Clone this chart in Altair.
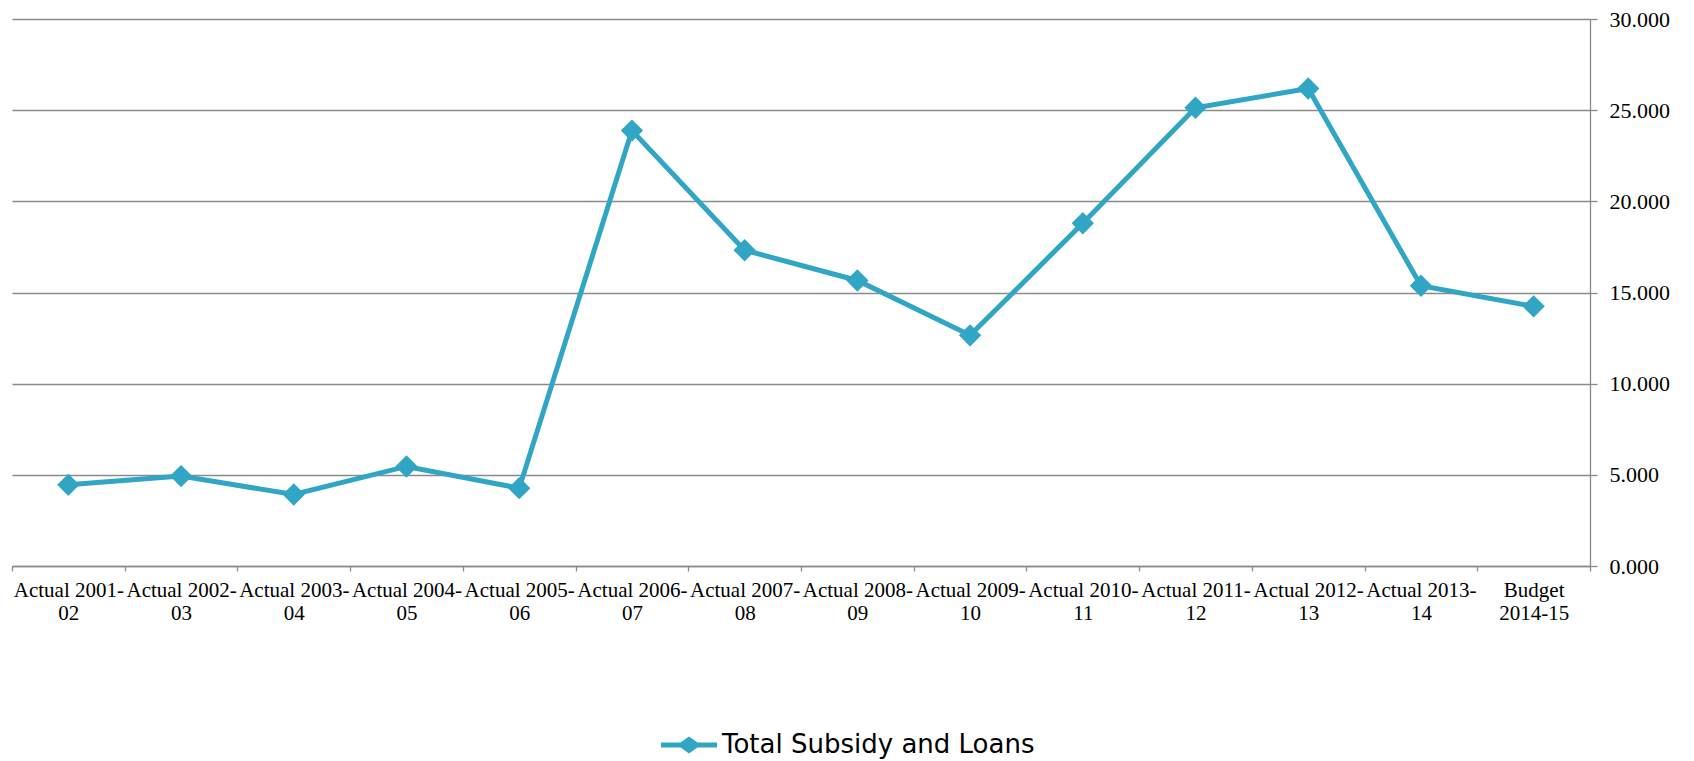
import altair as alt
import pandas as pd

categories = [
    "Actual 2001-02", "Actual 2002-03", "Actual 2003-04", "Actual 2004-05",
    "Actual 2005-06", "Actual 2006-07", "Actual 2007-08", "Actual 2008-09",
    "Actual 2009-10", "Actual 2010-11", "Actual 2011-12", "Actual 2012-13",
    "Actual 2013-14", "Budget 2014-15",
]
values = [4.45, 4.93, 3.92, 5.46, 4.27, 23.88, 17.32, 15.66, 12.65, 18.80,
          25.13, 26.19, 15.37, 14.24]
series_name = "Total Subsidy and Loans"
y_ticks = [0, 5, 10, 15, 20, 25, 30]

COLOR = "#31a6c4"
GRAY = "#8a8a8a"

df = pd.DataFrame({"cat": categories, "val": values, "series": series_name})

label_expr = (
    "!isString(datum.label) ? '' : "
    "(datum.label == 'Budget 2014-15' ? ['Budget', '2014-15'] : "
    "[substring(datum.label, 0, 12), substring(datum.label, 12)])"
)

legend_path = ("M-1,-0.09 L-0.3,-0.09 L0,-0.3 L0.3,-0.09 L1,-0.09 L1,0.09 "
               "L0.3,0.09 L0,0.3 L-0.3,0.09 L-1,0.09 Z")

x_enc = alt.X(
    "cat:N", sort=categories,
    scale=alt.Scale(type="band", paddingInner=0, paddingOuter=0),
    axis=alt.Axis(
        title=None, labelAngle=0, tickBand="extent", tickSize=5,
        tickColor=GRAY, domainColor=GRAY, domainWidth=1.3, tickWidth=1.3,
        labelFont="Liberation Serif", labelFontSize=21, labelColor="black",
        labelLineHeight=23, labelPadding=8, labelBaseline="top",
        labelExpr=label_expr,
        grid=False,
    ),
)
y_enc = alt.Y(
    "val:Q", scale=alt.Scale(domain=[0, 30], nice=False),
    axis=alt.Axis(
        title=None, orient="right", values=y_ticks, format=".3f",
        tickSize=7, tickColor=GRAY, domainColor=GRAY, domainWidth=1.3,
        tickWidth=1.3, gridColor=GRAY, gridWidth=1.3,
        labelFont="Liberation Serif", labelFontSize=22, labelColor="black",
        labelPadding=12,
    ),
)

line = alt.Chart(df).mark_line(color=COLOR, strokeWidth=5).encode(x=x_enc, y=y_enc)
points = alt.Chart(df).mark_point(shape="diamond", filled=True, size=500, opacity=1).encode(
    x=x_enc, y=y_enc,
    color=alt.Color(
        "series:N", scale=alt.Scale(range=[COLOR]),
        legend=alt.Legend(
            title=None, orient="none", legendX=649, legendY=698,
            symbolType=legend_path, symbolSize=3136,
            symbolFillColor=COLOR, symbolStrokeWidth=0,
            labelFont="DejaVu Sans", labelFontSize=26, labelColor="black",
            labelOffset=5, labelLimit=0,
        ),
    ),
)

chart = alt.layer(line, points).properties(
    width=1578, height=547,
    autosize=alt.AutoSizeParams(type="none"),
    padding={"left": 4, "top": 11, "right": 96, "bottom": 195},
).configure_view(stroke=None)

chart.save("out.html", embed_options={"renderer": "svg", "actions": False})
